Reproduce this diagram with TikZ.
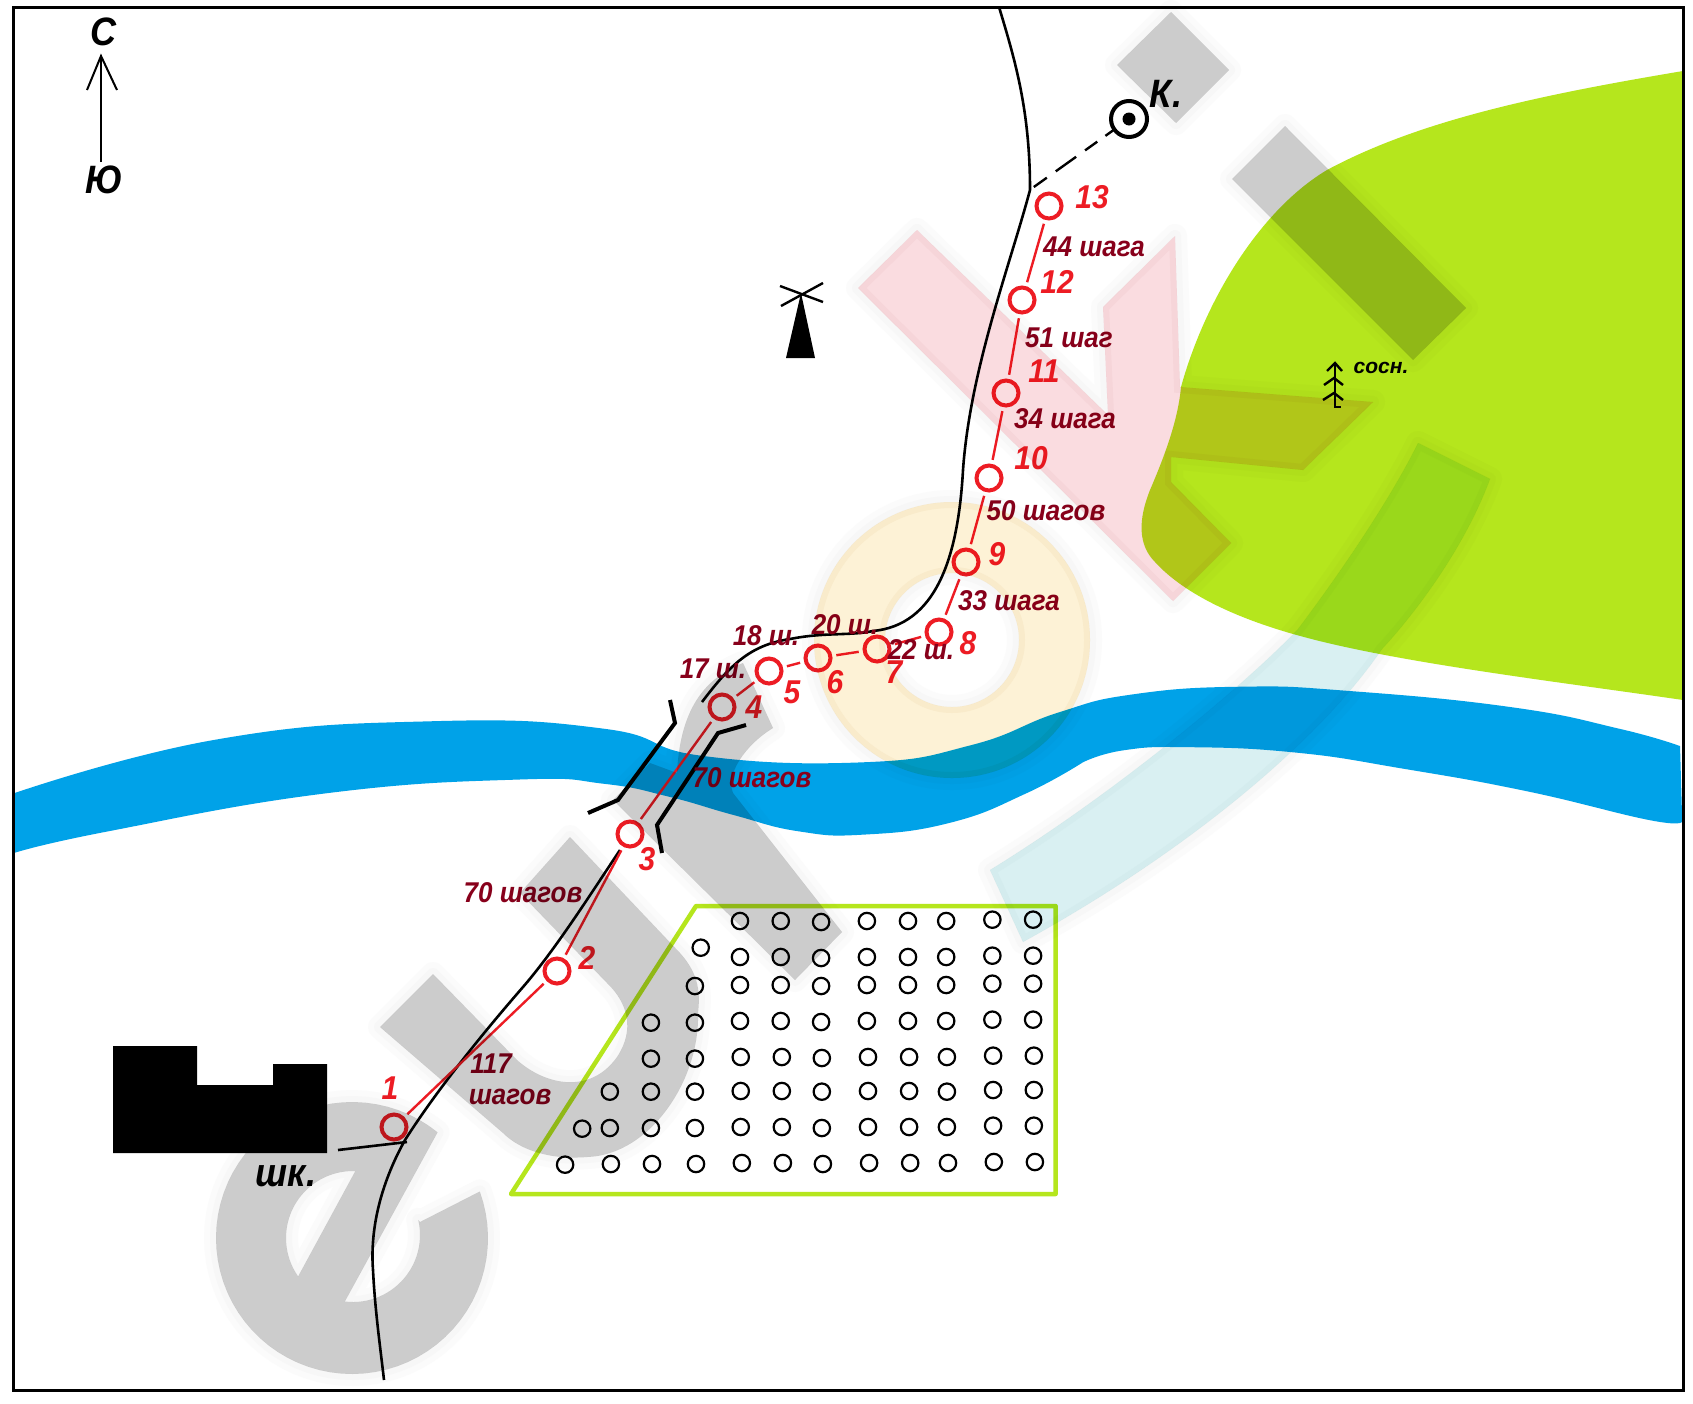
\documentclass[tikz,border=0pt]{standalone}
\usepackage{fontspec}
\usepackage{graphicx}
\setmainfont{Liberation Sans}
\definecolor{rd}{HTML}{ED1C24}
\definecolor{dk}{HTML}{88001B}
\definecolor{grn}{HTML}{B5E61D}
\definecolor{riv}{HTML}{00A2E8}
\definecolor{wgray}{HTML}{CCCCCC}
\definecolor{wgrayb}{HTML}{FFFFFF}
\definecolor{wpink}{HTML}{FADCE0}
\definecolor{wpinkb}{HTML}{FBF7F8}
\definecolor{wyel}{HTML}{FDF2D6}
\definecolor{wyelb}{HTML}{FBF8F3}
\definecolor{wcyan}{HTML}{D9F0F2}
\definecolor{wcyanb}{HTML}{FAFBFB}
\definecolor{halo}{HTML}{FBFBFB}
\newcommand\tallt[1]{\scalebox{1}[1.1]{#1}}
\newcommand\wmshape[3]{%
  \begin{scope}[blend mode=multiply,even odd rule]
    \begin{scope}
      \clip (0,0) rectangle (1693,1403) #3;
      \draw[halo,line width=24pt,line join=round] #3;
      \draw[halo,line width=12pt,line join=round] #3;
    \end{scope}
    \fill[#1] #3;
    \begin{scope}
      \clip #3;
      \draw[#2,line width=12pt,line join=miter] #3;
    \end{scope}
  \end{scope}%
}
\tikzset{
  rnode/.style={circle,draw=rd,line width=4pt,fill=none,minimum size=25pt,inner sep=0pt,outer sep=0pt},
  rlink/.style={draw=rd,line width=2.4pt,shorten >=6pt,shorten <=6pt},
  num/.style={text=rd,font=\fontsize{30}{32}\selectfont\bfseries\itshape,inner sep=0pt},
  lab/.style={text=dk,font=\fontsize{26}{28}\selectfont\bfseries\itshape,inner sep=0pt},
  blk/.style={text=black,font=\fontsize{36}{38}\selectfont\bfseries\itshape,inner sep=0pt},
  roadline/.style={draw=black,line width=2.6pt},
  bridge/.style={draw=black,line width=4pt,line join=miter},
  dot/.style={draw=black,line width=2.2pt},
}
\begin{document}
\begin{tikzpicture}[x=1pt,y=-1pt]
\useasboundingbox (0,0) rectangle (1693,1403);
\fill[white] (0,0) rectangle (1693,1403);
% forest
\fill[grn] (1683,71) .. controls (1540,95) and (1420,120) .. (1327,170) .. controls (1260,210) and (1205,300) .. (1181,387)
  .. controls (1178,420) and (1165,455) .. (1150,490) .. controls (1138,520) and (1138,545) .. (1155,562)
  .. controls (1185,595) and (1240,620) .. (1304,637) .. controls (1400,663) and (1560,682) .. (1683,700) -- cycle;
% river
\begin{scope}[scale=1.0797]
\fill[riv] plot[smooth,tension=.8] coordinates {(12,735) (200,685) (400,668) (560,675) (650,700) (800,706) (900,690) (980,660) (1050,643) (1150,636) (1250,640) (1400,655) (1500,675) (1556,691)}
 -- plot[smooth,tension=.8] coordinates {(1558,760) (1530,760) (1415,733) (1300,712) (1200,697) (1100,692) (1040,695) (1003,706)}
 -- plot[smooth,tension=.8] coordinates {(1003,706) (950,735) (880,762) (800,773) (740,770) (680,755) (620,738) (560,726) (480,722) (300,735) (100,770) (13,790)} -- cycle;
\end{scope}
% frame
\draw[black,line width=3pt] (13,7) rectangle (1683,1390);
% field
\draw[grn,line width=4.5pt,line join=round] (511,1194) -- (696,906) -- (1055.6,906) -- (1055.6,1194) -- cycle;
\foreach \a/\b in {660/93,772/93,883/96,1009/93,1122/93,1227/93,1354/89,1466/89,552/173,
660/201,772/201,883/204,1009/201,1122/201,1227/201,1354/197,1466/197,
536/288,660/285,772/285,883/288,1009/285,1122/285,1227/285,1354/281,1466/281,
415/398,536/398,660/393,772/393,883/396,1009/393,1122/393,1227/393,1354/389,1466/389,
415/506,536/506,662/501,775/501,885/504,1012/501,1125/501,1229/501,1356/497,1468/497,
302/605,415/605,536/605,662/603,775/603,885/605,1012/603,1125/603,1229/605,1356/600,1468/600,
226/716,302/714,415/714,536/714,662/711,775/711,885/714,1012/711,1125/711,1229/711,1356/707,1468/707,
179/824,305/822,418/822,539/822,665/819,778/819,888/822,1015/819,1128/819,1232/819,1358/816,1471/816}
  \draw[dot] ({500+\a/2.75},{890+\b/3}) circle[radius=8.2];
% road
\draw[roadline] (999,7) .. controls (1015,60) and (1030,110) .. (1030,190)
  .. controls (1010,265) and (970,370) .. (963,470)
  .. controls (958,560) and (935,625) .. (873,631)
  .. controls (850,636) and (825,632) .. (790,639)
  .. controls (750,645) and (730,665) .. (702,702);
\draw[roadline] (620,850) .. controls (590,895) and (555,950) .. (523,987)
  .. controls (490,1025) and (440,1085) .. (405,1140)
  .. controls (380,1185) and (370,1230) .. (373,1270)
  .. controls (375,1310) and (380,1345) .. (384,1380);
\coordinate (sch) at (338,1150);
\coordinate (schj) at (407,1142);
\draw[roadline] (sch) -- (schj);
% bridge
\draw[bridge] (670,700) -- (675,723) -- (618,800) -- (588,813);
\draw[bridge] (746,725) -- (718,733) -- (657,825) -- (662,853);
% school
\fill[black] (113,1046) -- (197,1046) -- (197,1085) -- (273,1085) -- (273,1064) -- (327,1064) -- (327,1153) -- (113,1153) -- cycle;
% windmill
\fill[black] (786,358) -- (815,358) -- (801,293) -- cycle;
\draw[black,line width=2.4pt] (780,286) -- (823,302);
\draw[black,line width=2.4pt] (781,306) -- (823,283);
% compass
\coordinate (cs) at (101,162);
\coordinate (cn) at (101,56);
\draw[black,line width=2pt] (cs) -- (cn);
\draw[black,line width=2pt] (87,90) -- (cn) -- (117,90);
\node[blk] (tN) at (103,32) {\tallt{С}};
\node[blk] (tS) at (104,180) {\tallt{Ю}};
% target K
\node[circle,draw=black,line width=4pt,minimum size=36pt,inner sep=0pt,outer sep=0pt] (kk) at (1129,119) {};
\fill[black] (kk.center) circle[radius=6.5];
\coordinate (kj) at (1031,189);
\draw[black,line width=2.4pt,dash pattern=on 11pt off 10pt on 15pt off 11pt on 25pt off 11pt on 16pt off 50pt] (kk) -- (kj);
\node[blk] (tK) at (1166,94) {\tallt{К.}};
\node[blk] (tsh) at (286,1176) {\tallt{шк.}};
% pines
\draw[black,line width=2.4pt] (1335,363) -- (1335,407) -- (1341,407);
\draw[black,line width=2.4pt] (1327,371) -- (1335,363) -- (1342,371);
\draw[black,line width=2.4pt] (1324,385) -- (1334,378) -- (1343,385);
\draw[black,line width=2.4pt] (1323,400) -- (1334,393) -- (1343,400);
\node[text=black,font=\fontsize{21}{22}\selectfont\bfseries\itshape,inner sep=0pt] (tpine) at (1381,368) {сосн.};
% route
\foreach \n/\x/\y in {1/394/1127,2/557/971,3/630/834,4/722/707,5/769/671,6/818/658,7/877/649,8/939/632,9/966/562,10/989/478,11/1006/393,12/1022/300,13/1049/206}
  \node[rnode] (p\n) at (\x,\y) {};
\foreach \a/\b in {1/2,2/3,3/4,4/5,5/6,6/7,7/8,8/9,9/10,10/11,11/12,12/13}
  \draw[rlink] (p\a) -- (p\b);
\node[num] (n1) at (390,1088) {\tallt{1}};
\node[num] (n2) at (587,958) {\tallt{2}};
\node[num] (n3) at (647,859) {\tallt{3}};
\node[num] (n4) at (754,707) {\tallt{4}};
\node[num] (n5) at (792,692) {\tallt{5}};
\node[num] (n6) at (835,682) {\tallt{6}};
\node[num] (n7) at (894,672) {\tallt{7}};
\node[num] (n8) at (968,643) {\tallt{8}};
\node[num] (n9) at (997,554) {\tallt{9}};
\node[num] (n10) at (1031,458) {\tallt{10}};
\node[num] (n11) at (1044,371) {\tallt{11}};
\node[num] (n12) at (1057,282) {\tallt{12}};
\node[num] (n13) at (1092,197) {\tallt{13}};
\node[lab] (l1) at (1094,247) {\tallt{44 шага}};
\node[lab] (l2) at (1069,338) {\tallt{51 шаг}};
\node[lab] (l3) at (1065,419) {\tallt{34 шага}};
\node[lab] (l4) at (1046,511) {\tallt{50 шагов}};
\node[lab] (l5) at (1009,601) {\tallt{33 шага}};
\node[lab] (l6) at (921,650) {\tallt{22 ш.}};
\node[lab] (l7) at (845,625) {\tallt{20 ш.}};
\node[lab] (l8) at (766,636) {\tallt{18 ш.}};
\node[lab] (l9) at (713,669) {\tallt{17 ш.}};
\node[lab] (l10) at (752,778) {\tallt{70 шагов}};
\node[lab] (l11) at (523,893) {\tallt{70 шагов}};
\node[lab] (l12) at (491,1064) {\tallt{117}};
\node[lab] (l13) at (510,1097) {\tallt{шагов}};
% watermark, multiplied over everything
\wmshape{wgray}{wgrayb}{plot[domain=-51:-380,samples=70] ({352+136*cos(\x)},{1238+136*sin(\x)})
  -- (420,1222) -- plot[domain=-13:97,samples=30] ({353+67*cos(\x)},{1235+67*sin(\x)})
  -- cycle
  plot[domain=-88:-215,samples=40] ({353+67*cos(\x)},{1238+67*sin(\x)}) -- cycle}
\wmshape{wgray}{wgrayb}{(380,1027) -- (433,974) -- (517,1060) .. controls (545,1085) and (590,1095) .. (617,1057) .. controls (635,1030) and (628,1003) .. (607,983) -- (520,893) -- (570,837) -- (680,953) .. controls (700,975) and (700,995) .. (698,1013) .. controls (700,1080) and (650,1155) .. (587,1157) .. controls (550,1160) and (520,1150) .. (503,1133) -- cycle}
\wmshape{wgray}{wgrayb}{(613,800) -- (795,980) -- (842,932) -- (733,793) .. controls (725,775) and (745,745) .. (773,728) -- (743,663) .. controls (700,680) and (680,715) .. (677,773) -- (650,763) -- cycle}
\wmshape{wyel}{wyelb}{(952,640) circle[radius=138] (952,640) circle[radius=67]}
\wmshape{wpink}{wpinkb}{(858,288) -- (917,230) -- (1108,415) -- (1103,307) -- (1175,236) -- (1180,387) -- (1373,402) -- (1303,470) -- (1171,457) -- (1171,482) -- (1231,543) -- (1173,601) -- cycle}
\wmshape{wgray}{wgrayb}{(1171,12) -- (1229,70) -- (1176,123) -- (1117,65) -- cycle}
\wmshape{wgray}{wgrayb}{(1285,126) -- (1466,308) -- (1413,360) -- (1232,179) -- cycle}
\wmshape{wcyan}{wcyanb}{(990,870) .. controls (1120,790) and (1250,680) .. (1298,629) .. controls (1350,560) and (1395,490) .. (1418,443) -- (1490,479) .. controls (1460,560) and (1400,630) .. (1382,649) .. controls (1320,740) and (1190,850) .. (1023,942) -- cycle}
\end{tikzpicture}
\end{document}
